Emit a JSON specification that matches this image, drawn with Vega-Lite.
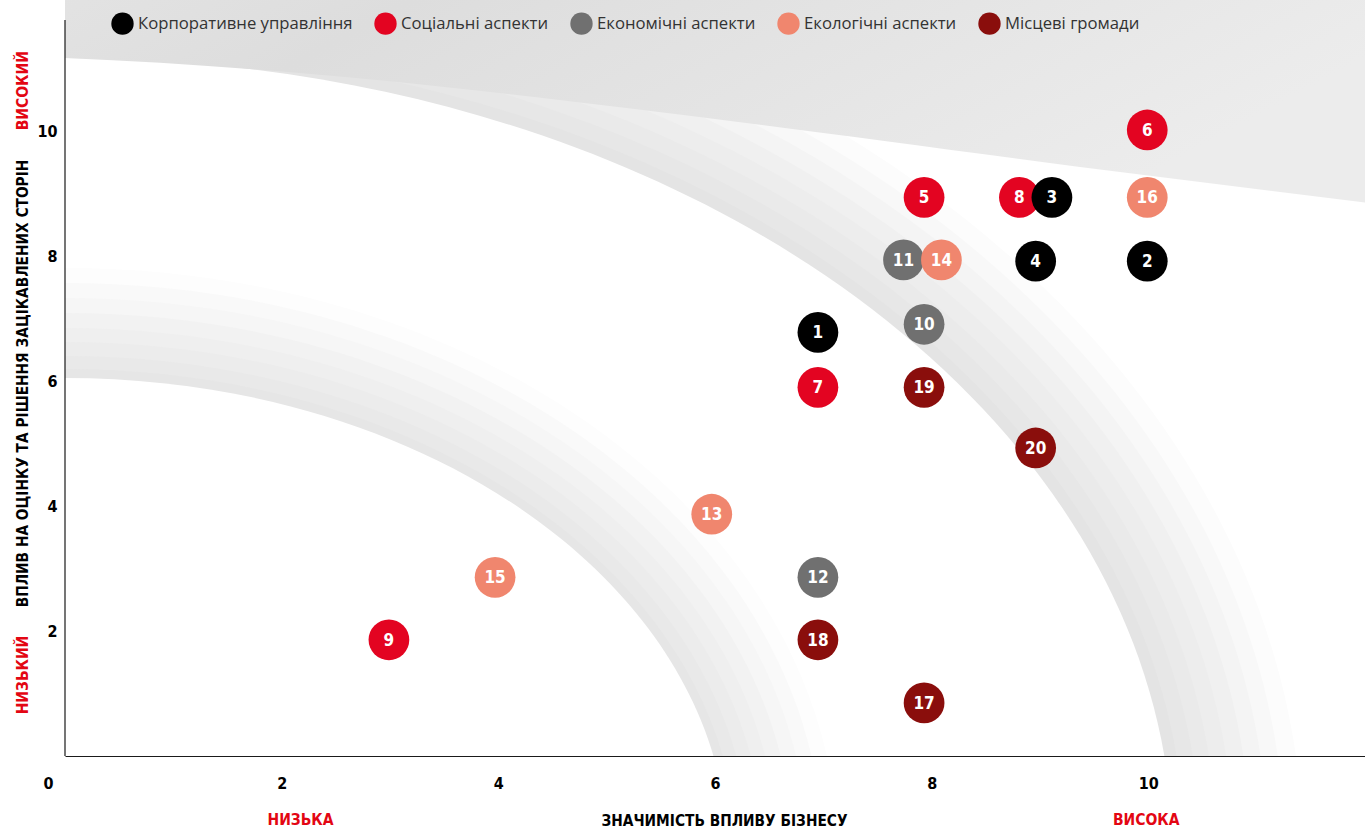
{
  "$schema": "https://vega.github.io/schema/vega-lite/v6.json",
  "width": 1300,
  "height": 756,
  "padding": {"left": 65, "top": 0, "right": 0, "bottom": 73},
  "autosize": {"type": "none"},
  "background": "white",
  "config": {"view": {"stroke": null}},
  "datasets": {
    "points": [
      {"id": "1", "cat": "Корпоративне управління", "x": 6.95, "y": 6.78},
      {"id": "2", "cat": "Корпоративне управління", "x": 9.99, "y": 7.92},
      {"id": "4", "cat": "Корпоративне управління", "x": 8.96, "y": 7.92},
      {"id": "5", "cat": "Соціальні аспекти", "x": 7.93, "y": 8.94},
      {"id": "6", "cat": "Соціальні аспекти", "x": 9.99, "y": 10.02},
      {"id": "7", "cat": "Соціальні аспекти", "x": 6.95, "y": 5.9},
      {"id": "8", "cat": "Соціальні аспекти", "x": 8.81, "y": 8.94},
      {"id": "3", "cat": "Корпоративне управління", "x": 9.11, "y": 8.94},
      {"id": "9", "cat": "Соціальні аспекти", "x": 2.99, "y": 1.86},
      {"id": "10", "cat": "Економічні аспекти", "x": 7.93, "y": 6.91},
      {"id": "11", "cat": "Економічні аспекти", "x": 7.74, "y": 7.94},
      {"id": "12", "cat": "Економічні аспекти", "x": 6.95, "y": 2.86},
      {"id": "13", "cat": "Екологічні аспекти", "x": 5.97, "y": 3.87},
      {"id": "14", "cat": "Екологічні аспекти", "x": 8.09, "y": 7.94},
      {"id": "15", "cat": "Екологічні аспекти", "x": 3.97, "y": 2.86},
      {"id": "16", "cat": "Екологічні аспекти", "x": 9.99, "y": 8.94},
      {"id": "17", "cat": "Місцеві громади", "x": 7.93, "y": 0.85},
      {"id": "18", "cat": "Місцеві громади", "x": 6.95, "y": 1.86},
      {"id": "19", "cat": "Місцеві громади", "x": 7.93, "y": 5.9},
      {"id": "20", "cat": "Місцеві громади", "x": 8.96, "y": 4.93}
    ]
  },
  "layer": [
    {"data": {"values": [{}]}, "mark": {"type": "point", "shape": "M -1238,0 A 1238,928 0 1,0 1238,0 A 1238,928 0 1,0 -1238,0 Z", "size": 4, "filled": true, "fill": "#fcfcfc", "opacity": 1, "strokeWidth": 0, "clip": true},
     "encoding": {
       "x": {"datum": 0, "type": "quantitative", "scale": {"domain": [0, 12], "nice": false, "zero": false},
         "axis": {"values": [0, 2, 4, 6, 8, 10], "format": "d", "title": "ЗНАЧИМІСТЬ ВПЛИВУ БІЗНЕСУ", "grid": false, "ticks": false, "tickSize": 0, "domain": true, "domainColor": "#1a1a1a", "domainWidth": 1.2, "zindex": 1,
           "labelFont": "DejaVu Sans Condensed, DejaVu Sans, sans-serif", "labelFontSize": 16, "labelFontWeight": "bold", "labelColor": "#000000", "labelPadding": 27, "labelBaseline": "middle", "labelFlush": false, "labelAlign": "center",
           "labelOffset": {"condition": {"test": "datum.value === 0", "value": -17}, "value": 0},
           "titleFont": "DejaVu Sans Condensed, DejaVu Sans, sans-serif", "titleFontSize": 15.3, "titleFontWeight": "bold", "titleColor": "#000000", "titleX": 659, "titleY": 69, "titleBaseline": "alphabetic", "titleAlign": "center"}},
       "y": {"datum": -1.6, "type": "quantitative", "scale": {"domain": [0, 12.1], "nice": false, "zero": false},
         "axis": {"values": [2, 4, 6, 8, 10], "format": "d", "title": "ВПЛИВ НА ОЦІНКУ ТА РІШЕННЯ ЗАЦІКАВЛЕНИХ СТОРІН", "grid": false, "ticks": false, "tickSize": 0, "domain": false, "zindex": 1,
           "labelFont": "DejaVu Sans Condensed, DejaVu Sans, sans-serif", "labelFontSize": 16, "labelFontWeight": "bold", "labelColor": "#000000", "labelPadding": 8,
           "titleFont": "DejaVu Sans Condensed, DejaVu Sans, sans-serif", "titleFontSize": 15.3, "titleFontWeight": "bold", "titleColor": "#000000", "titleX": -38, "titleY": 383, "titleBaseline": "alphabetic", "titleAlign": "center", "titleAngle": -90}}}},
    {"data": {"values": [{}]}, "mark": {"type": "point", "shape": "M -1220,0 A 1220,910 0 1,0 1220,0 A 1220,910 0 1,0 -1220,0 Z", "size": 4, "filled": true, "fill": "#f8f8f8", "opacity": 1, "strokeWidth": 0, "clip": true},
     "encoding": {"x": {"datum": 0, "type": "quantitative"}, "y": {"datum": -1.6, "type": "quantitative"}}},
    {"data": {"values": [{}]}, "mark": {"type": "point", "shape": "M -1203,0 A 1203,893 0 1,0 1203,0 A 1203,893 0 1,0 -1203,0 Z", "size": 4, "filled": true, "fill": "#f4f4f4", "opacity": 1, "strokeWidth": 0, "clip": true},
     "encoding": {"x": {"datum": 0, "type": "quantitative"}, "y": {"datum": -1.6, "type": "quantitative"}}},
    {"data": {"values": [{}]}, "mark": {"type": "point", "shape": "M -1186,0 A 1186,876 0 1,0 1186,0 A 1186,876 0 1,0 -1186,0 Z", "size": 4, "filled": true, "fill": "#f0f0f0", "opacity": 1, "strokeWidth": 0, "clip": true},
     "encoding": {"x": {"datum": 0, "type": "quantitative"}, "y": {"datum": -1.6, "type": "quantitative"}}},
    {"data": {"values": [{}]}, "mark": {"type": "point", "shape": "M -1169,0 A 1169,859 0 1,0 1169,0 A 1169,859 0 1,0 -1169,0 Z", "size": 4, "filled": true, "fill": "#ededed", "opacity": 1, "strokeWidth": 0, "clip": true},
     "encoding": {"x": {"datum": 0, "type": "quantitative"}, "y": {"datum": -1.6, "type": "quantitative"}}},
    {"data": {"values": [{}]}, "mark": {"type": "point", "shape": "M -1152,0 A 1152,842 0 1,0 1152,0 A 1152,842 0 1,0 -1152,0 Z", "size": 4, "filled": true, "fill": "#eaeaea", "opacity": 1, "strokeWidth": 0, "clip": true},
     "encoding": {"x": {"datum": 0, "type": "quantitative"}, "y": {"datum": -1.6, "type": "quantitative"}}},
    {"data": {"values": [{}]}, "mark": {"type": "point", "shape": "M -1136,0 A 1136,826 0 1,0 1136,0 A 1136,826 0 1,0 -1136,0 Z", "size": 4, "filled": true, "fill": "#e7e7e7", "opacity": 1, "strokeWidth": 0, "clip": true},
     "encoding": {"x": {"datum": 0, "type": "quantitative"}, "y": {"datum": -1.6, "type": "quantitative"}}},
    {"data": {"values": [{}]}, "mark": {"type": "point", "shape": "M -1120,0 A 1120,810 0 1,0 1120,0 A 1120,810 0 1,0 -1120,0 Z", "size": 4, "filled": true, "fill": "#e4e4e4", "opacity": 1, "strokeWidth": 0, "clip": true},
     "encoding": {"x": {"datum": 0, "type": "quantitative"}, "y": {"datum": -1.6, "type": "quantitative"}}},
    {"data": {"values": [{}]}, "mark": {"type": "point", "shape": "M -1108,0 A 1108,798 0 1,0 1108,0 A 1108,798 0 1,0 -1108,0 Z", "size": 4, "filled": true, "fill": "#ffffff", "opacity": 1, "strokeWidth": 0, "clip": true},
     "encoding": {"x": {"datum": 0, "type": "quantitative"}, "y": {"datum": -1.6, "type": "quantitative"}}},

    {"data": {"values": [{}]}, "mark": {"type": "point", "shape": "M -773,0 A 773,588 0 1,0 773,0 A 773,588 0 1,0 -773,0 Z", "size": 4, "filled": true, "fill": "#fdfdfd", "opacity": 1, "strokeWidth": 0, "clip": true},
     "encoding": {"x": {"datum": 0, "type": "quantitative"}, "y": {"datum": -1.6, "type": "quantitative"}}},
    {"data": {"values": [{}]}, "mark": {"type": "point", "shape": "M -758,0 A 758,573 0 1,0 758,0 A 758,573 0 1,0 -758,0 Z", "size": 4, "filled": true, "fill": "#f9f9f9", "opacity": 1, "strokeWidth": 0, "clip": true},
     "encoding": {"x": {"datum": 0, "type": "quantitative"}, "y": {"datum": -1.6, "type": "quantitative"}}},
    {"data": {"values": [{}]}, "mark": {"type": "point", "shape": "M -743,0 A 743,558 0 1,0 743,0 A 743,558 0 1,0 -743,0 Z", "size": 4, "filled": true, "fill": "#f6f6f6", "opacity": 1, "strokeWidth": 0, "clip": true},
     "encoding": {"x": {"datum": 0, "type": "quantitative"}, "y": {"datum": -1.6, "type": "quantitative"}}},
    {"data": {"values": [{}]}, "mark": {"type": "point", "shape": "M -728,0 A 728,543 0 1,0 728,0 A 728,543 0 1,0 -728,0 Z", "size": 4, "filled": true, "fill": "#f2f2f2", "opacity": 1, "strokeWidth": 0, "clip": true},
     "encoding": {"x": {"datum": 0, "type": "quantitative"}, "y": {"datum": -1.6, "type": "quantitative"}}},
    {"data": {"values": [{}]}, "mark": {"type": "point", "shape": "M -713,0 A 713,528 0 1,0 713,0 A 713,528 0 1,0 -713,0 Z", "size": 4, "filled": true, "fill": "#efefef", "opacity": 1, "strokeWidth": 0, "clip": true},
     "encoding": {"x": {"datum": 0, "type": "quantitative"}, "y": {"datum": -1.6, "type": "quantitative"}}},
    {"data": {"values": [{}]}, "mark": {"type": "point", "shape": "M -699,0 A 699,514 0 1,0 699,0 A 699,514 0 1,0 -699,0 Z", "size": 4, "filled": true, "fill": "#ececec", "opacity": 1, "strokeWidth": 0, "clip": true},
     "encoding": {"x": {"datum": 0, "type": "quantitative"}, "y": {"datum": -1.6, "type": "quantitative"}}},
    {"data": {"values": [{}]}, "mark": {"type": "point", "shape": "M -685,0 A 685,500 0 1,0 685,0 A 685,500 0 1,0 -685,0 Z", "size": 4, "filled": true, "fill": "#e9e9e9", "opacity": 1, "strokeWidth": 0, "clip": true},
     "encoding": {"x": {"datum": 0, "type": "quantitative"}, "y": {"datum": -1.6, "type": "quantitative"}}},
    {"data": {"values": [{}]}, "mark": {"type": "point", "shape": "M -672,0 A 672,487 0 1,0 672,0 A 672,487 0 1,0 -672,0 Z", "size": 4, "filled": true, "fill": "#e6e6e6", "opacity": 1, "strokeWidth": 0, "clip": true},
     "encoding": {"x": {"datum": 0, "type": "quantitative"}, "y": {"datum": -1.6, "type": "quantitative"}}},
    {"data": {"values": [{}]}, "mark": {"type": "point", "shape": "M -663,0 A 663,478 0 1,0 663,0 A 663,478 0 1,0 -663,0 Z", "size": 4, "filled": true, "fill": "#ffffff", "opacity": 1, "strokeWidth": 0, "clip": true},
     "encoding": {"x": {"datum": 0, "type": "quantitative"}, "y": {"datum": -1.6, "type": "quantitative"}}},

    {"data": {"values": [{}]}, "mark": {"type": "point", "shape": "M -70,-20 L 1320,-20 L 1320,205 L 1015,167 C 600,112 300,70 0,58 L -70,58 Z", "size": 4, "filled": true, "fill": {"gradient": "linear", "x1": 0, "y1": 0, "x2": 1, "y2": 0.3, "stops": [{"offset": 0, "color": "#e4e4e4"}, {"offset": 0.3, "color": "#dddddd"}, {"offset": 1, "color": "#ececec"}]}, "opacity": 1, "strokeWidth": 0, "clip": true},
     "encoding": {"x": {"datum": 0, "type": "quantitative"}, "y": {"datum": 12.1, "type": "quantitative"}}},

    {"data": {"values": [{}]}, "mark": {"type": "rule", "color": "#1a1a1a", "strokeWidth": 1.2},
     "encoding": {"x": {"datum": 0, "type": "quantitative"}, "y": {"datum": 0, "type": "quantitative"}, "y2": {"datum": 11.78}}},

    {"data": {"name": "points"},
     "mark": {"type": "point", "filled": true, "opacity": 1, "size": 1660, "strokeWidth": 0},
     "encoding": {
       "x": {"field": "x", "type": "quantitative"},
       "y": {"field": "y", "type": "quantitative"},
       "color": {"field": "cat", "type": "nominal",
         "scale": {"domain": ["Корпоративне управління", "Соціальні аспекти", "Економічні аспекти", "Екологічні аспекти", "Місцеві громади"], "range": ["#000000", "#e30421", "#707070", "#f0866e", "#8a0e0c"]},
         "legend": {"orient": "none", "legendX": 46, "legendY": 12, "direction": "horizontal", "title": null, "padding": 0, "symbolType": "circle", "symbolSize": 500, "symbolStrokeWidth": 0, "symbolOpacity": 1,
           "labelFont": "Open Sans", "labelFontSize": 16.7, "labelColor": "#333333", "labelOffset": 4, "columnPadding": 21, "labelLimit": 400}}
     }},

    {"data": {"name": "points"},
     "mark": {"type": "text", "color": "#ffffff", "font": "DejaVu Sans Condensed, DejaVu Sans, sans-serif", "fontSize": 17, "fontWeight": "bold", "align": "center", "baseline": "middle", "dy": 1},
     "encoding": {"x": {"field": "x", "type": "quantitative"}, "y": {"field": "y", "type": "quantitative"}, "text": {"field": "id"}}},

    {"data": {"values": [{}]}, "mark": {"type": "text", "text": "НИЗЬКА", "color": "#e30613", "font": "DejaVu Sans Condensed, DejaVu Sans, sans-serif", "fontSize": 15.5, "fontWeight": "bold", "align": "center", "baseline": "alphabetic"},
     "encoding": {"x": {"datum": 2.174, "type": "quantitative"}, "y": {"datum": -1.1, "type": "quantitative"}}},
    {"data": {"values": [{}]}, "mark": {"type": "text", "text": "ВИСОКА", "color": "#e30613", "font": "DejaVu Sans Condensed, DejaVu Sans, sans-serif", "fontSize": 15.5, "fontWeight": "bold", "align": "center", "baseline": "alphabetic"},
     "encoding": {"x": {"datum": 9.98, "type": "quantitative"}, "y": {"datum": -1.1, "type": "quantitative"}}},
    {"data": {"values": [{}]}, "mark": {"type": "text", "text": "ВИСОКИЙ", "color": "#e30613", "font": "DejaVu Sans Condensed, DejaVu Sans, sans-serif", "fontSize": 15.5, "fontWeight": "bold", "align": "center", "baseline": "alphabetic", "angle": 270},
     "encoding": {"x": {"datum": -0.3415, "type": "quantitative"}, "y": {"datum": 10.648, "type": "quantitative"}}},
    {"data": {"values": [{}]}, "mark": {"type": "text", "text": "НИЗЬКИЙ", "color": "#e30613", "font": "DejaVu Sans Condensed, DejaVu Sans, sans-serif", "fontSize": 15.5, "fontWeight": "bold", "align": "center", "baseline": "alphabetic", "angle": 270},
     "encoding": {"x": {"datum": -0.3415, "type": "quantitative"}, "y": {"datum": 1.296, "type": "quantitative"}}}
  ]
}
